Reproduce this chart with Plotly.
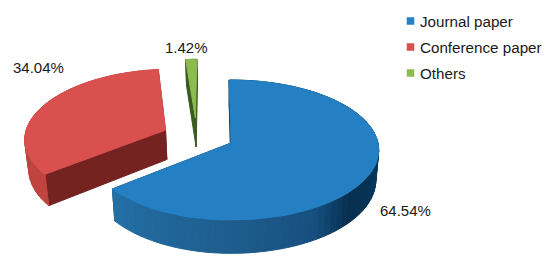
import numpy as np
import plotly.graph_objects as go

# %%
# Chart data
categories = ["Journal paper", "Conference paper", "Others"]
values = [64.54, 34.04, 1.42]

# Colours for each slice
top_colors = ["#2480c2", "#d9504e", "#8cbb4f"]
cut_colors = ["#0b3554", "#742320", "#3a5a1e"]
side_stops = [
    [(0, "#0a3c60"), (90, "#0a3c60"), (132, "#062f50"), (150, "#17507f"), (185, "#1f5f90"), (233, "#2370a8")],
    [(233, "#c0433f"), (355, "#c0433f")],
    [(355, "#3a5a1e"), (360, "#3a5a1e")],
]

# Projection of the tilted pie onto the 550x265 page
cx, cy = 231, 143
rx_right, rx_left = 147, 142
ry = 69.3
persp = 0.1
depth = 30
base_shrink = 0.98
rotation = -0.8
# how far each slice is pulled out of the pie, in pie radii
offsets = [(0, 0), (-0.47, 0.19), (-0.26, 0.374)]
label_pos = [(405, 210), (38, 67), (186, 47)]
legend_y = [21, 47, 73]


def project(u, v, base=False):
    w = 1 + persp * v
    shrink = base_shrink if base else 1
    rx = rx_right if u > 0 else rx_left
    sx = cx + rx * u / w * shrink
    sy = cy - ry * v / w + (depth / w if base else 0)
    return sx, sy


def rim(a, off):
    t = np.radians(a + rotation)
    return np.sin(t) + off[0], np.cos(t) + off[1]


def mix(stops, a):
    angles = [s[0] for s in stops]
    rgb = [[int(s[1][i:i + 2], 16) for i in (1, 3, 5)] for s in stops]
    c = [np.interp(a, angles, [p[k] for p in rgb]) for k in range(3)]
    return "rgb(%d,%d,%d)" % tuple(c)


def poly(xs, ys, color):
    return go.Scatter(x=list(xs) + [xs[0]], y=list(ys) + [ys[0]], mode="lines", fill="toself",
                      fillcolor=color, line=dict(color=color, width=1),
                      hoverinfo="skip", showlegend=False)


fig = go.Figure()

# %%
# Slices, smallest first
shares = np.array(values) / sum(values) * 360
starts = np.concatenate([[0], np.cumsum(shares)[:-1]])

for i in [2, 1, 0]:
    a0, a1 = starts[i], starts[i] + shares[i]
    off = offsets[i]
    angles = np.linspace(a0, a1, max(int(shares[i] / 3), 2) + 1)
    apex = (off[0], off[1])

    # cut faces
    for a in (a0, a1):
        e = rim(a, off)
        p1, p2 = project(*apex), project(*e)
        p3, p4 = project(*e, base=True), project(*apex, base=True)
        fig.add_trace(poly([p1[0], p2[0], p3[0], p4[0]], [p1[1], p2[1], p3[1], p4[1]], cut_colors[i]))

    # outer wall, one strip per step so the shading can change along it
    for b0, b1 in zip(angles[:-1], angles[1:]):
        e0, e1 = rim(b0, off), rim(b1, off)
        p1, p2 = project(*e0), project(*e1)
        p3, p4 = project(*e1, base=True), project(*e0, base=True)
        fig.add_trace(poly([p1[0], p2[0], p3[0], p4[0]], [p1[1], p2[1], p3[1], p4[1]],
                           mix(side_stops[i], (b0 + b1) / 2)))

    # top face
    pts = [project(*apex)] + [project(*rim(a, off)) for a in angles]
    fig.add_trace(poly([p[0] for p in pts], [p[1] for p in pts], top_colors[i]))

# %%
# Legend markers
lx = 410.5
for i, name in enumerate(categories):
    fig.add_trace(go.Scatter(x=[lx], y=[legend_y[i]], mode="markers", hoverinfo="skip", showlegend=False,
                             marker=dict(symbol="square", size=7.5, color=top_colors[i])))
    fig.add_annotation(x=418, y=legend_y[i], text=name, xanchor="left", yanchor="middle", showarrow=False,
                       font=dict(size=15.2, color="#1a1a1a"))

for v, (x, y) in zip(values, label_pos):
    fig.add_annotation(x=x, y=y, text=f"{v:.2f}%", xanchor="center", yanchor="middle", showarrow=False,
                       font=dict(size=15, color="#1a1a1a"))

fig.update_layout(
    width=550, height=265,
    margin=dict(l=0, r=0, t=0, b=0),
    paper_bgcolor="white", plot_bgcolor="white",
    font=dict(family="Liberation Sans"),
    showlegend=False,
    xaxis=dict(range=[0, 550], visible=False, fixedrange=True),
    yaxis=dict(range=[265, 0], visible=False, fixedrange=True),
)

# page body has a default margin that would push the chart off the window
fig.write_html("out.html", config=dict(displayModeBar=False),
               post_script="document.body.style.margin='0';document.documentElement.style.overflow='hidden';")
